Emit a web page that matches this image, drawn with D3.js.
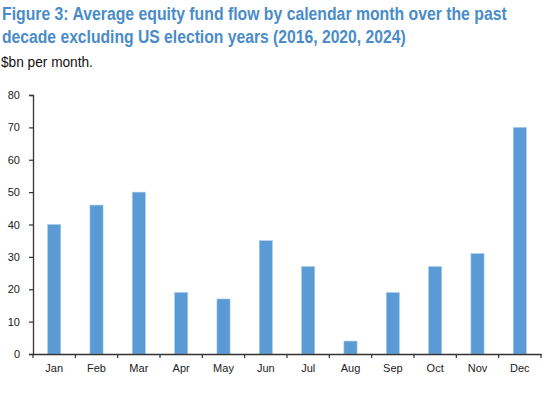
<!DOCTYPE html>
<html><head><meta charset="utf-8">
<script src="https://cdn.jsdelivr.net/npm/d3@7"></script>
<style>body{margin:0;background:#fff;} svg{display:block;}</style>
</head><body>
<svg id="c" width="550" height="397"></svg>
<script>
const titleLines = ["Figure 3: Average equity fund flow by calendar month over the past",
                    "decade excluding US election years (2016, 2020, 2024)"];
const subtitle = "$bn per month.";
const months = ["Jan","Feb","Mar","Apr","May","Jun","Jul","Aug","Sep","Oct","Nov","Dec"];
const flows = [40, 46, 50, 19, 17, 35, 27, 4, 19, 27, 31, 70];
const yTicks = [0,10,20,30,40,50,60,70,80];

const svg = d3.select("#c");
const m = {left:33, right:9, top:95, bottom:43};
const W = 550, H = 397;

// fit text horizontally via transform scale (keeps real bbox accurate)
function fitText(sel, x0, y0, target){
  const nat = sel.node().getComputedTextLength();
  const s = nat > 0 ? target/nat : 1;
  sel.attr("x",0).attr("y",0).attr("transform",`translate(${x0},${y0}) scale(${s},1)`);
}

// title
const tWidths = [505, 404];
const tY = [19.5, 42.5];
titleLines.forEach((t,i)=>{
  const el = svg.append("text")
    .attr("font-family","'Liberation Sans Narrow','Liberation Sans',Arial,sans-serif")
    .attr("font-weight","bold").attr("font-size",18.5).attr("fill","#4a8cc9")
    .text(t);
  fitText(el, 2, tY[i], tWidths[i]);
});
const sub = svg.append("text")
  .attr("font-family","'Liberation Sans',Arial,sans-serif")
  .attr("font-size",14.5).attr("fill","#111")
  .text(subtitle);
fitText(sub, 1, 67, 92);

const x = d3.scaleBand().domain(months).range([m.left, W-m.right]).padding(0);
const y = d3.scaleLinear().domain([0,80]).range([H-m.bottom, m.top]);

const barW = x.bandwidth()*0.31;
svg.append("g").selectAll("rect").data(months).join("rect")
  .attr("x", (d)=>x(d)+x.bandwidth()/2-barW/2)
  .attr("width", barW)
  .attr("y", (d,i)=>y(flows[i]))
  .attr("height", (d,i)=>y(0)-y(flows[i]))
  .attr("fill","#5b9bd5")
  .attr("stroke","#a9cbeb").attr("stroke-width",0.6);

// y axis
const ya = svg.append("g").attr("transform",`translate(${m.left},0)`)
  .call(d3.axisLeft(y).tickValues(yTicks).tickSize(4).tickPadding(9));
ya.select(".domain").attr("stroke","#333").attr("stroke-width",1.3);
ya.selectAll(".tick line").attr("stroke","#333").attr("stroke-width",1.2);
ya.selectAll("text").attr("font-family","'Liberation Sans',Arial,sans-serif").attr("font-size",11).attr("fill","#222");

// x axis
const xa = svg.append("g").attr("transform",`translate(0,${y(0)})`)
  .call(d3.axisBottom(x).tickSize(0).tickPadding(10));
xa.select(".domain").attr("stroke","#333").attr("stroke-width",1.3);
xa.selectAll("text").attr("font-family","'Liberation Sans',Arial,sans-serif").attr("font-size",11).attr("fill","#222");
// boundary ticks
const bounds = months.map(d=>x(d)).concat([x(months[months.length-1])+x.bandwidth()]);
xa.append("g").selectAll("line").data(bounds).join("line")
  .attr("x1",d=>d).attr("x2",d=>d).attr("y1",0).attr("y2",4)
  .attr("stroke","#333").attr("stroke-width",1.2);
</script>
</body></html>
